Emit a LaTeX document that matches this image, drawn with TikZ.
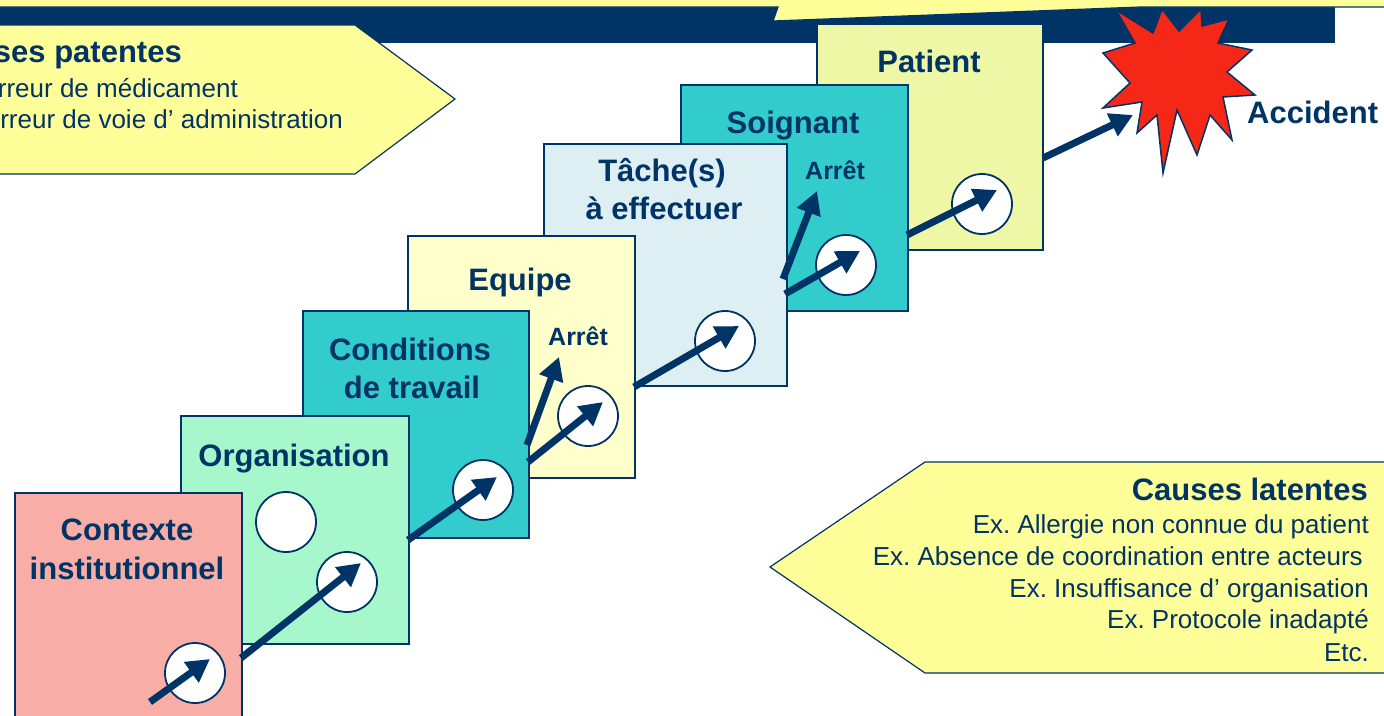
\documentclass[tikz,border=0pt]{standalone}
\usepackage{fontspec}
\setmainfont{Liberation Sans}
\usetikzlibrary{arrows.meta}
\frenchspacing

\definecolor{navy}{RGB}{0,51,102}
\definecolor{calloutyellow}{RGB}{255,255,153}
\definecolor{boxpink}{RGB}{248,173,166}
\definecolor{boxgreen}{RGB}{166,248,204}
\definecolor{boxteal}{RGB}{51,204,204}
\definecolor{boxcream}{RGB}{255,255,204}
\definecolor{boxblue}{RGB}{221,239,242}
\definecolor{boxlime}{RGB}{237,247,166}
\definecolor{starred}{RGB}{245,40,24}

\tikzset{
  stepbox/.style={draw=navy, line width=1.5pt, rectangle, inner sep=0pt,
    anchor=north west},
  hole/.style={circle, draw=navy, line width=1.8pt, fill=white,
    minimum size=60pt, inner sep=0pt},
  flow/.style={draw=navy, line width=7pt,
    -{Triangle[length=23pt,width=24pt]}},
  title/.style={text=navy, anchor=base, inner sep=0pt,
    font=\fontsize{31}{36}\selectfont\bfseries},
  stop/.style={text=navy, anchor=base west, inner sep=0pt,
    font=\fontsize{25}{30}\selectfont\bfseries},
  bodytext/.style={text=navy, inner sep=0pt,
    font=\fontsize{26}{31}\selectfont},
  callout/.style={fill=calloutyellow, draw=navy, line width=1.2pt},
}

\begin{document}
\begin{tikzpicture}[x=1pt,y=-1pt]
\useasboundingbox (0,0) rectangle (1384,715);
\clip (0,0) rectangle (1384,715);

% header band
\fill[navy] (0,7) rectangle (1335,43);
\draw[callout] (-10,-10) -- (1394,-10) -- (1394,7) -- (1140,7) -- (773,21)
  -- (778,7) -- (-10,7) -- cycle;

% patent causes callout (runs off the left edge)
\draw[callout] (-10,25) -- (355,25) -- (455,99) -- (355,174) -- (-10,174) -- cycle;
\node[title, anchor=base east] (patT) at (182,62) {Causes patentes};
\node[bodytext, anchor=base east] (pat1) at (238,97) {Ex. Erreur de médicament};
\node[bodytext, anchor=base east] (pat2) at (343,128) {Ex. Erreur de voie d’ administration};

% steps, from back to front
\node[stepbox, fill=boxlime, minimum width=226pt, minimum height=226pt] (patient) at (816,23) {};
\node[hole] (h7) at (982,204) {};
\node[title] (tpatient) at (929,72) {Patient};

\node[stepbox, fill=boxteal, minimum width=227pt, minimum height=226pt] (soignant) at (680,84) {};
\node[hole] (h6) at (846,265) {};
\node[title] (tsoignant) at (793,133) {Soignant};
\node[stop] (stop2) at (805,179) {Arrêt};

\node[stepbox, fill=boxblue, minimum width=243pt, minimum height=242pt] (tache) at (543,143) {};
\node[hole] (h5) at (725,341) {};
\node[title] (ttache1) at (662,181) {Tâche(s)};
\node[title] (ttache2) at (664,219) {à effectuer};

\node[stepbox, fill=boxcream, minimum width=227pt, minimum height=242pt] (equipe) at (407,235) {};
\node[hole] (h4) at (588,416) {};
\node[title] (tequipe) at (520,290) {Equipe};
\node[stop] (stop1) at (548,345) {Arrêt};

\node[stepbox, fill=boxteal, minimum width=226pt, minimum height=227pt] (conditions) at (302,310) {};
\node[hole] (h3) at (483,490) {};
\node[title] (tcond1) at (410,360) {Conditions};
\node[title] (tcond2) at (412,398) {de travail};

\node[stepbox, fill=boxgreen, minimum width=228pt, minimum height=228pt] (organisation) at (180,415) {};
\node[hole] (h2a) at (286,522) {};
\node[hole] (h2) at (347,582) {};
\node[title] (torg) at (294,466) {Organisation};

\node[stepbox, fill=boxpink, minimum width=227pt, minimum height=240pt] (contexte) at (14,492) {};
\node[hole] (h1) at (195,673) {};
\node[title] (tctx1) at (127,540) {Contexte};
\node[title] (tctx2) at (127,579) {institutionnel};

% accident burst
\draw[fill=starred, draw=navy, line width=1.5pt]
  (1116,10) -- (1153,33) -- (1162,9) -- (1179,31) -- (1201,9) -- (1202,26)
  -- (1229,19) -- (1218,43) -- (1252,50) -- (1227,72) -- (1255,95)
  -- (1223,97) -- (1232,140) -- (1210,115) -- (1197,155) -- (1177,110)
  -- (1163,173) -- (1157,115) -- (1137,133) -- (1142,102) -- (1103,108)
  -- (1130,83) -- (1103,53) -- (1135,43) -- cycle;
\node[title, anchor=base west] (accident) at (1247,123) {Accident};

% trajectory through the holes
\coordinate (p1s) at (150,702);  \coordinate (p1e) at (210,659);
\coordinate (p2s) at (241,658);  \coordinate (p2e) at (361,563);
\coordinate (p3s) at (408,540);  \coordinate (p3e) at (497,477);
\coordinate (p4s) at (528,462);  \coordinate (p4e) at (603,402);
\coordinate (p5s) at (527,445);  \coordinate (p5e) at (559,357);
\coordinate (p6s) at (634,387);  \coordinate (p6e) at (739,326);
\coordinate (p7s) at (785,294);  \coordinate (p7e) at (860,251);
\coordinate (p8s) at (783,279);  \coordinate (p8e) at (817,191);
\coordinate (p9s) at (907,235);  \coordinate (p9e) at (997,190);
\coordinate (p10s) at (1043,158); \coordinate (p10e) at (1133,115);
\foreach \i in {1,...,10} { \draw[flow] (p\i s) -- (p\i e); }

% latent causes callout
\draw[callout] (1394,462) -- (925,462) -- (770,567) -- (925,673) -- (1394,673) -- cycle;
\node[title, anchor=base east] (latT) at (1368,500) {Causes latentes};
\node[bodytext, anchor=base east] (lat1) at (1369,533) {Ex. Allergie non connue du patient};
\node[bodytext, anchor=base east] (lat2) at (1363,565) {Ex. Absence de coordination entre acteurs};
\node[bodytext, anchor=base east] (lat3) at (1369,597) {Ex. Insuffisance d’ organisation};
\node[bodytext, anchor=base east] (lat4) at (1369,628) {Ex. Protocole inadapté};
\node[bodytext, anchor=base east] (lat5) at (1369,661) {Etc.};
\end{tikzpicture}
\end{document}
